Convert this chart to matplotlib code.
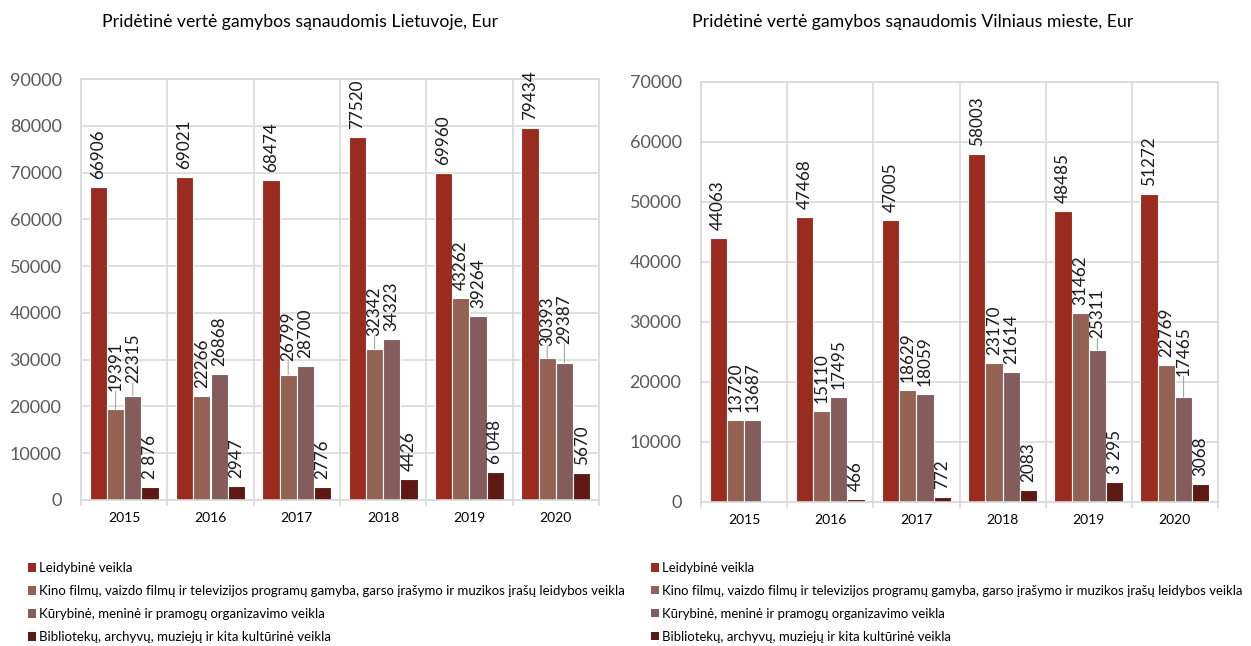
import numpy as np
import matplotlib
matplotlib.use("Agg")
import matplotlib.pyplot as plt
from matplotlib.patches import Patch

plt.rcParams['font.family'] = ['Lato', 'DejaVu Sans']

years = ["2015", "2016", "2017", "2018", "2019", "2020"]
series_names = [
    "Leidybinė veikla",
    "Kino filmų, vaizdo filmų ir televizijos programų gamyba, garso įrašymo ir muzikos įrašų leidybos veikla",
    "Kūrybinė, meninė ir pramogų organizavimo veikla",
    "Bibliotekų, archyvų, muziejų ir kita kultūrinė veikla",
]

# Lietuva
lt_leidybine = [66906, 69021, 68474, 77520, 69960, 79434]
lt_kino = [19391, 22266, 26799, 32342, 43262, 30393]
lt_kuryba = [22315, 26868, 28700, 34323, 39264, 29387]
lt_biblioteka = [2876, 2947, 2776, 4426, 6048, 5670]

# Vilnius
vln_leidybine = [44063, 47468, 47005, 58003, 48485, 51272]
vln_kino = [13720, 15110, 18629, 23170, 31462, 22769]
vln_kuryba = [13687, 17495, 18059, 21614, 25311, 17465]
vln_biblioteka = [np.nan, 466, 772, 2083, 3295, 3068]

lt_title = "Pridėtinė vertė gamybos sąnaudomis Lietuvoje, Eur"
vln_title = "Pridėtinė vertė gamybos sąnaudomis Vilniaus mieste, Eur"

# values shown with a thousands space in the reference
spaced_values = {2876, 6048, 3295}

colors = ["#9A2C1F", "#946252", "#855C5C", "#5E1914"]

# extra label lift (pixels) with leader line: (series index, year index) -> px
lt_nudge = {(1, 0): 10, (2, 0): 5, (1, 2): 6, (1, 3): 5, (1, 5): 4, (2, 5): 11}
vln_nudge = {(2, 4): 4, (2, 5): 13}


def fmt(v):
    v = int(v)
    if v in spaced_values:
        return f"{v:,}".replace(",", " ")
    return str(v)


def draw(ax, series, ymax, nudge):
    x = np.arange(len(years))
    w = 0.2
    offs = [-0.3, -0.1, 0.1, 0.3]
    ax.set_xlim(-0.5, len(years) - 0.5)
    ax.set_ylim(0, ymax)
    ax.set_axisbelow(True)
    for si, vals in enumerate(series):
        vals = np.array(vals, dtype=float)
        ax.bar(x + offs[si], vals, width=w, color=colors[si],
               edgecolor="white", linewidth=0.8, zorder=2)
        for yi, v in enumerate(vals):
            if np.isnan(v):
                continue
            extra = nudge.get((si, yi), 0)
            ax.annotate(fmt(v), xy=(x[yi] + offs[si], v),
                        xytext=(0, 8 + extra), textcoords="offset pixels",
                        rotation=90, ha="center", va="bottom",
                        fontsize=12.3, color="#1a1a1a", zorder=3)
            if extra > 0:
                ax.annotate("", xy=(x[yi] + offs[si], v),
                            xytext=(0, 8 + extra), textcoords="offset pixels",
                            xycoords="data",
                            arrowprops=dict(arrowstyle="-", color="#a6a6a6",
                                            lw=0.8, shrinkA=0, shrinkB=0))
    ax.set_yticks(np.arange(0, ymax + 1, 10000))
    ax.yaxis.grid(True, color="#d9d9d9", linewidth=1.2, zorder=0)
    for b in np.arange(-0.5, len(years) + 0.5, 1):
        ax.axvline(b, color="#d9d9d9", linewidth=1.2, zorder=0)
    ax.set_xticks(x)
    ax.set_xticklabels(years, fontsize=10, color="black")
    ax.set_xticks(np.arange(-0.5, len(years)), minor=True)
    ax.tick_params(axis="x", which="major", length=0, pad=9)
    ax.tick_params(axis="x", which="minor", length=4, color="#d9d9d9", width=1.2)
    ax.tick_params(axis="y", length=0, labelsize=13, labelcolor="#595959", pad=14)
    for s in ax.spines.values():
        s.set_color("#d9d9d9")
        s.set_linewidth(1.2)


fig = plt.figure(figsize=(12.51, 6.46), dpi=100)
ax1 = fig.add_axes([81 / 1251, 1 - 500 / 646, 518 / 1251, 421 / 646])
ax2 = fig.add_axes([701 / 1251, 1 - 502 / 646, 517 / 1251, 420 / 646])

draw(ax1, [lt_leidybine, lt_kino, lt_kuryba, lt_biblioteka], 90000, lt_nudge)
draw(ax2, [vln_leidybine, vln_kino, vln_kuryba, vln_biblioteka], 70000, vln_nudge)

fig.text(300 / 1251, 1 - 22 / 646, lt_title, ha="center", va="center", fontsize=12.7)
fig.text(913 / 1251, 1 - 22 / 646, vln_title, ha="center", va="center", fontsize=12.7)

handles = [Patch(facecolor=c, edgecolor="none") for c in colors]
for xpos, fs in ((28 / 1251, 9.55), (651 / 1251, 9.45)):
    fig.legend(handles, series_names, loc="upper left",
               bbox_to_anchor=(xpos, 1 - 562 / 646), frameon=False,
               fontsize=fs, handlelength=0.6, handleheight=0.6,
               handletextpad=0.25, labelspacing=0.83, borderaxespad=0,
               borderpad=0)

fig.savefig("out.png", dpi=100)
